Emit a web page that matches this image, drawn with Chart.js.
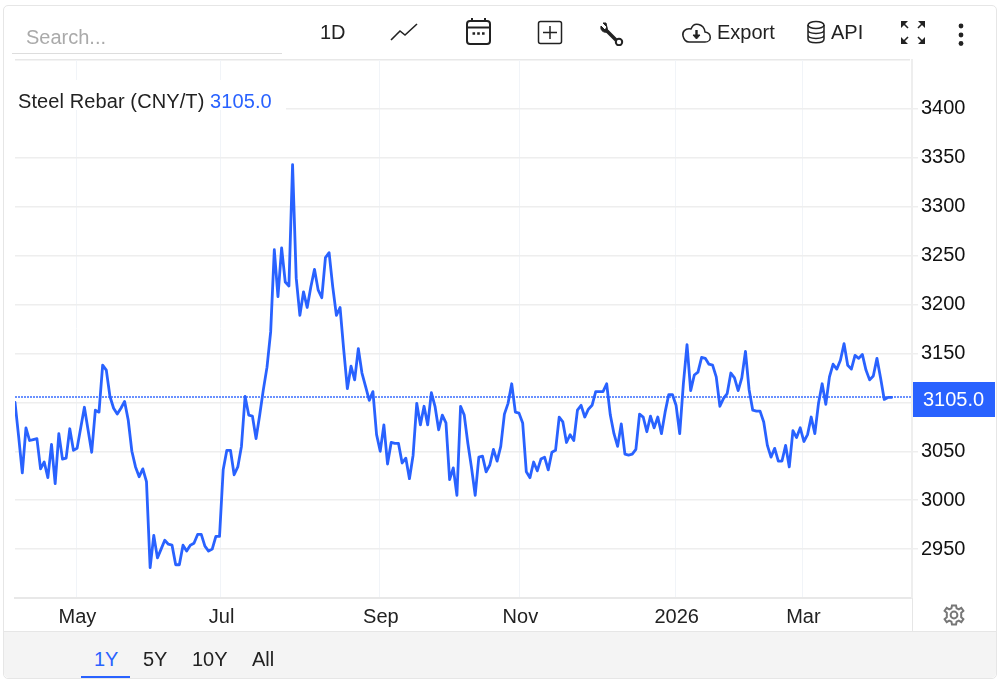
<!DOCTYPE html>
<html>
<head>
<meta charset="utf-8">
<title>Steel Rebar</title>
<script src="https://cdn.jsdelivr.net/npm/chart.js@4/dist/chart.umd.min.js"></script>
<style>
  html, body { margin: 0; padding: 0; background: #fff; overflow: hidden; }
  body { width: 1001px; height: 682px; position: relative; font-family: "Liberation Sans", Arial, sans-serif; color: #222; }
  #frame { position: absolute; left: 3px; top: 5px; width: 992px; height: 672px; border: 1px solid #e6e6e6; border-radius: 5px; }
  canvas { position: absolute; left: 0; top: 0; }
  .abs { position: absolute; white-space: nowrap; }
  .t { font-size: 20px; line-height: 24px; }
  #search { left: 26px; top: 25px; color: #aaa; }
  #searchLine { left: 12px; top: 53px; width: 270px; height: 1px; background: #ddd; }
  #legend { left: 15px; top: 80px; width: 271px; height: 30px; background: #fff; font-size: 20px; line-height: 42px; letter-spacing: 0.1px; color: #222; padding-left: 3px; box-sizing: border-box; }
  #legend span { color: #2962ff; }
  #bottom { left: 4px; top: 631px; width: 992px; height: 46px; background: #f4f4f4; border-top: 1px solid #e6e6e6; border-radius: 0 0 5px 5px; }
  #divider { left: 912px; top: 598px; width: 1px; height: 33px; background: #e6e6e6; }
  #under { left: 81px; top: 676px; width: 49px; height: 2px; background: #2962ff; }
  svg { position: absolute; fill: none; stroke: #222; }
</style>
</head>
<body>
<div id="frame"></div>
<canvas id="chart" width="1001" height="682"></canvas>
<div class="abs t" id="search">Search...</div>
<div class="abs" id="searchLine"></div>
<div class="abs" id="legend">Steel Rebar (CNY/T) <span>3105.0</span></div>
<div class="abs" id="bottom"></div>
<div class="abs" id="divider"></div>
<div class="abs t" style="left:320px;top:20px">1D</div>
<div class="abs t" style="left:717px;top:20px">Export</div>
<div class="abs t" style="left:831px;top:20px">API</div>
<div class="abs t" style="left:94px;top:647px;color:#2962ff">1Y</div>
<div class="abs t" style="left:143px;top:647px">5Y</div>
<div class="abs t" style="left:192px;top:647px">10Y</div>
<div class="abs t" style="left:252px;top:647px">All</div>
<div class="abs" id="under"></div>

<svg style="left:390px;top:22px" width="28" height="20" stroke-width="1.6"><path d="M1 18 L10 9 L15 13 L27 2"/></svg>
<svg style="left:465px;top:17px" width="28" height="29" stroke-width="2"><rect x="2" y="4" width="23" height="23" rx="3"/><path d="M2 10.5H25M7 1V5M20 1V5"/><path d="M7.5 16.5h2.6M12.2 16.5h2.6M17 16.5h2.6" stroke-width="2.6"/></svg>
<svg style="left:537px;top:20px" width="26" height="25" stroke-width="1.5"><rect x="1.5" y="1.5" width="23" height="22" rx="2"/><path d="M13 6V19M6 12.5H20"/></svg>
<svg style="left:600px;top:22px" width="25" height="24"><path d="M6 1 L3 1 L7 5 L5 8 L1 4 C0 9 4 11 8 10 Z" fill="#222" stroke-width="1"/><path d="M7 9 L16 18" stroke-width="3.6"/><circle cx="19" cy="20" r="3.2" stroke-width="2"/></svg>
<svg style="left:681px;top:21px" width="31" height="24" stroke-width="1.5"><path d="M8 21 H24 C31 21 31 12 24 11 C23 3 13 0 10 8 C4 7 1 11 2 15 C3 19 5 21 8 21Z"/><path d="M15.5 9V16" stroke-width="2.4"/><path d="M12 14 L15.5 18 L19 14Z" fill="#222" stroke-width="1"/></svg>
<svg style="left:806px;top:20px" width="20" height="24" stroke-width="1.5"><ellipse cx="10" cy="5" rx="8" ry="3.6"/><path d="M2 5V19C2 24 18 24 18 19V5M2 10C2 14.5 18 14.5 18 10M2 15C2 19.5 18 19.5 18 15"/></svg>
<svg style="left:899px;top:19px" width="28" height="27" stroke-width="1.6"><path d="M5 5L9 9M23 5L19 9M5 22L9 18M23 22L19 18"/><path d="M2 2H9L2 9ZM26 2H19L26 9ZM2 25H9L2 18ZM26 25H19L26 18Z" fill="#222" stroke="none"/></svg>
<svg style="left:955px;top:22px;stroke:none" width="12" height="26"><circle cx="6" cy="4" r="2.4" fill="#222"/><circle cx="6" cy="13" r="2.4" fill="#222"/><circle cx="6" cy="21.5" r="2.4" fill="#222"/></svg>
<svg style="left:943px;top:604px;stroke:#777" width="22" height="22" stroke-width="2"><circle cx="11" cy="11" r="3.4"/><path d="M9 1.5H13L13.6 4.4L15.8 5.4L18.3 3.8L20.4 6.9L18.2 8.8V13.2L20.4 15.1L18.3 18.2L15.8 16.6L13.6 17.6L13 20.5H9L8.4 17.6L6.2 16.6L3.7 18.2L1.6 15.1L3.8 13.2V8.8L1.6 6.9L3.7 3.8L6.2 5.4L8.4 4.4Z"/></svg>

<script>
const values = [
  3100, 3065, 3028, 3074, 3061, 3062, 3063, 3032, 3039, 3023, 3057, 3017, 3068, 3042, 3043, 3073,
  3051, 3053, 3074, 3095, 3072, 3049, 3092, 3090, 3138, 3133, 3106, 3094, 3088, 3094, 3101, 3082,
  3050, 3034, 3024, 3032, 3019, 2931, 2964, 2941, 2950, 2959, 2955, 2954, 2934, 2934, 2954, 2948,
  2954, 2956, 2965, 2965, 2953, 2948, 2950, 2963, 2963, 3031, 3051, 3051, 3026, 3034, 3055, 3106,
  3087, 3086, 3063, 3087, 3113, 3136, 3172, 3256, 3208, 3258, 3223, 3219, 3343, 3227, 3189, 3213,
  3197, 3218, 3236, 3215, 3207, 3248, 3253, 3218, 3189, 3197, 3154, 3114, 3137, 3123, 3155, 3130,
  3116, 3102, 3111, 3067, 3050, 3077, 3037, 3059, 3058, 3058, 3038, 3043, 3022, 3046, 3099, 3077,
  3096, 3077, 3110, 3096, 3072, 3087, 3079, 3021, 3033, 3005, 3096, 3087, 3058, 3033, 3005, 3044,
  3045, 3029, 3036, 3052, 3040, 3055, 3088, 3099, 3119, 3090, 3089, 3079, 3029, 3023, 3039, 3030,
  3042, 3044, 3031, 3049, 3051, 3085, 3080, 3059, 3067, 3061, 3092, 3097, 3085, 3093, 3097, 3111,
  3111, 3111, 3119, 3087, 3068, 3055, 3078, 3047, 3046, 3047, 3052, 3088, 3085, 3070, 3086, 3074,
  3085, 3068, 3090, 3108, 3108, 3097, 3068, 3119, 3159, 3112, 3128, 3131, 3146, 3145, 3139, 3138,
  3126, 3096, 3104, 3109, 3130, 3125, 3112, 3125, 3152, 3113, 3092, 3091, 3091, 3080, 3056, 3044,
  3053, 3040, 3040, 3056, 3034, 3071, 3064, 3074, 3060, 3067, 3085, 3068, 3099, 3119, 3098, 3126,
  3139, 3134, 3143, 3160, 3138, 3134, 3148, 3145, 3149, 3133, 3123, 3127, 3145, 3125, 3103, 3105,
  3105
];
const days = values.map((v, i) => i);
const monthLabels = ['May', 'Jul', 'Sep', 'Nov', '2026', 'Mar'];
const monthDays = [16.8, 56.3, 99.9, 138.1, 180.9, 215.6];
const priceTicks = [2950, 3000, 3050, 3100, 3150, 3200, 3250, 3300, 3350, 3400];
const lastPrice = 3105;

const blue = '#2962ff';
const font = { family: '"Liberation Sans", Arial, sans-serif', size: 20 };

// dotted last price line and the tag on the axis
const lastPricePlugin = {
  id: 'lastPrice',
  afterDraw(c) {
    const ctx = c.ctx, y = Math.round(c.scales.y.getPixelForValue(lastPrice)), a = c.chartArea;
    ctx.save();
    ctx.strokeStyle = 'rgba(41,98,255,0.7)';
    ctx.lineWidth = 2;
    ctx.setLineDash([2, 1]);
    ctx.beginPath();
    ctx.moveTo(a.left, y);
    ctx.lineTo(a.right, y);
    ctx.stroke();
    ctx.fillStyle = blue;
    ctx.fillRect(a.right + 1, y - 15, 82, 35);
    ctx.fillStyle = '#fff';
    ctx.font = '20px "Liberation Sans", Arial, sans-serif';
    ctx.textAlign = 'left';
    ctx.textBaseline = 'middle';
    ctx.fillText(lastPrice.toFixed(1), a.right + 11, y + 3);
    ctx.restore();
  }
};

new Chart(document.getElementById('chart'), {
  type: 'line',
  data: {
    labels: days,
    datasets: [{
      data: values,
      borderColor: blue,
      borderWidth: 2.8,
      borderJoinStyle: 'round',
      borderCapStyle: 'round',
      pointRadius: 0,
      tension: 0,
      fill: false
    }]
  },
  options: {
    responsive: false,
    animation: false,
    layout: { padding: { left: 15, top: 60, right: 0, bottom: 0 } },
    plugins: { legend: { display: false }, tooltip: { enabled: false } },
    scales: {
      x: {
        type: 'linear',
        min: 0,
        max: 245.6,
        afterBuildTicks: (s) => { s.ticks = monthDays.map((d) => ({ value: d })); },
        afterFit: (s) => { s.height = 84; },
        ticks: {
          autoSkip: false,
          maxRotation: 0,
          padding: 7,
          labelOffset: 1,
          color: '#222',
          font,
          callback: (v) => monthLabels[monthDays.indexOf(v)]
        },
        grid: { color: '#f1f4f8', lineWidth: 1, drawTicks: false },
        border: { color: '#e8e8e8', width: 2 }
      },
      y: {
        position: 'right',
        min: 2900,
        max: 3450,
        afterBuildTicks: (s) => { s.ticks = priceTicks.map((p) => ({ value: p })); },
        afterFit: (s) => { s.width = 89; },
        ticks: { padding: 3, color: '#111', font, callback: (v) => String(v) },
        grid: { color: '#eeeeee', lineWidth: 1.5, tickLength: 6 },
        border: { color: '#eeeeee', width: 2 }
      }
    }
  },
  plugins: [lastPricePlugin, {
    id: 'topLine',
    beforeDraw(c) {
      const a = c.chartArea, ctx = c.ctx;
      ctx.fillStyle = '#e8e8e8';
      ctx.fillRect(a.left, a.top - 1, a.right - a.left - 2, 1.5);
    }
  }]
});
</script>
</body>
</html>
